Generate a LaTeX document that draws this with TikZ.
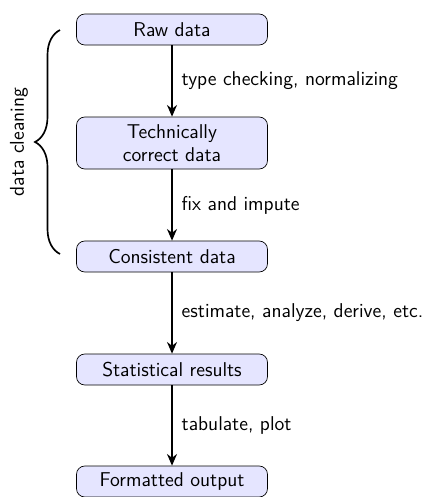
\documentclass[tikz,border=0pt]{standalone}
\usepackage{tikz}
\usetikzlibrary{positioning}
\usetikzlibrary{arrows.meta}
\usetikzlibrary{decorations.pathreplacing}

\tikzset{
    stagefont/.style={font=\sffamily\fontsize{12pt}{13.5pt}\selectfont},
    stagebox/.style={draw, rounded corners=5pt, fill=blue!10, minimum width=114.6pt,
        minimum height=18.6pt, align=center, stagefont},
    flowarrow/.style={-{Stealth[length=7pt,width=6pt]}, line width=1pt},
    steplabel/.style={right, stagefont, xshift=2pt}
}

\begin{document}
\begin{tikzpicture}[x=0.6pt,y=-0.6pt]
        \useasboundingbox (0,0) rectangle (427,497);
        \node[stagebox] (raw) at (172,29.5) {Raw data};
        \node[stagebox, minimum height=31.2pt] (tech) at (172,143) {Technically\\correct data};
        \node[stagebox] (cons) at (172,256.5) {Consistent data};
        \node[stagebox] (stat) at (172,369.5) {Statistical results};
        \node[stagebox] (form) at (172,481.5) {Formatted output};
        \draw[flowarrow] (raw) -- node[steplabel] {type checking, normalizing} (tech);
        \draw[flowarrow] (tech) -- node[steplabel] {fix and impute} (cons);
        \draw[flowarrow] (cons) -- node[steplabel] {estimate, analyze, derive, etc.} (stat);
        \draw[flowarrow] (stat) -- node[steplabel] {tabulate, plot} (form);
        \coordinate (cleantop) at (60,30);
        \coordinate (cleanbot) at (60,254);
        \draw[line width=1pt, decorate, decoration={brace, amplitude=15pt}] (cleanbot) -- (cleantop);
        \node[rotate=90, stagefont] (cleanlbl) at (19,142) {data cleaning};
    \end{tikzpicture}
\end{document}
